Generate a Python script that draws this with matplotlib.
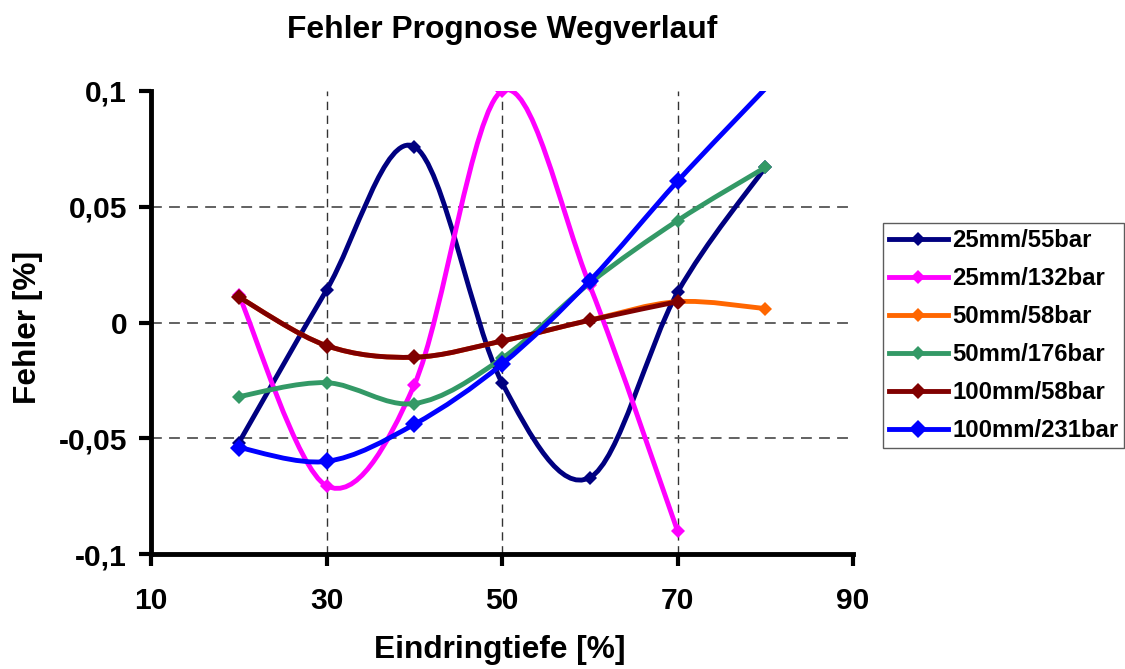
import numpy as np
import matplotlib
matplotlib.use('Agg')
import matplotlib.pyplot as plt
from matplotlib.path import Path
from matplotlib.patches import PathPatch
from matplotlib.lines import Line2D

# Daten
x_vals = [20, 30, 40, 50, 60, 70, 80]
x_short = [20, 30, 40, 50, 60, 70]

err_25_55 = [-0.052, 0.014, 0.076, -0.026, -0.067, 0.013, 0.067]
err_25_132 = [0.012, -0.0705, -0.027, 0.100, 0.016, -0.090]
err_50_58 = [0.011, -0.010, -0.015, -0.008, 0.001, 0.009, 0.006]
err_50_176 = [-0.032, -0.026, -0.035, -0.0155, 0.017, 0.044, 0.067]
err_100_58 = [0.011, -0.010, -0.015, -0.008, 0.001, 0.009]
err_100_231 = [-0.054, -0.060, -0.044, -0.018, 0.018, 0.061, 0.101]

labels = ['25mm/55bar', '25mm/132bar', '50mm/58bar', '50mm/176bar',
          '100mm/58bar', '100mm/231bar']
colors = ['#000080', '#FF00FF', '#FF6600', '#339966', '#800000', '#0000FF']
marker_sizes = [7.2, 7.0, 7.6, 7.6, 8.5, 9.6]

x_ticks = [10, 30, 50, 70, 90]
y_ticks = [-0.1, -0.05, 0, 0.05, 0.1]
y_tick_labels = ['-0,1', '-0,05', '0', '0,05', '0,1']

series = [(x_vals, err_25_55), (x_short, err_25_132), (x_vals, err_50_58),
          (x_vals, err_50_176), (x_short, err_100_58), (x_vals, err_100_231)]


def smooth_path(xs, ys):
    # geglaettete Linie wie in Excel (Bezier durch die Punkte)
    pts = np.column_stack([xs, ys]).astype(float)
    n = len(pts)
    verts = [pts[0]]
    codes = [Path.MOVETO]
    for i in range(n - 1):
        p0 = pts[i - 1] if i > 0 else pts[i]
        p1 = pts[i]
        p2 = pts[i + 1]
        p3 = pts[i + 2] if i + 2 < n else pts[i + 1]
        verts += [p1 + (p2 - p0) / 6, p2 - (p3 - p1) / 6, p2]
        codes += [Path.CURVE4] * 3
    return Path(verts, codes)


plt.rcParams['font.family'] = ['Liberation Sans', 'DejaVu Sans']
plt.rcParams['font.weight'] = 'bold'

fig = plt.figure(figsize=(11.25, 6.69), dpi=100)
ax = fig.add_axes([151 / 1125, 1 - 554 / 669, 702 / 1125, 463 / 669])

lw = 3.5
for k, ((xs, ys), col, ms) in enumerate(zip(series, colors, marker_sizes)):
    patch = PathPatch(smooth_path(xs, ys), facecolor='none', edgecolor=col,
                      lw=lw, zorder=3 + k, capstyle='butt', joinstyle='round')
    ax.add_patch(patch)
    y_arr = np.ma.masked_where(np.array(ys) > y_ticks[-1], ys)
    ax.plot(xs, y_arr, linestyle='none', marker='D', ms=ms, color=col,
            mew=0, zorder=3 + k)

ax.set_xlim(x_ticks[0], x_ticks[-1])
ax.set_ylim(y_ticks[0], y_ticks[-1])
ax.set_xticks(x_ticks)
ax.set_yticks(y_ticks)
ax.set_yticklabels(y_tick_labels)

for side in ['top', 'right']:
    ax.spines[side].set_visible(False)
for side in ['left', 'bottom']:
    ax.spines[side].set_linewidth(3.5)
ax.tick_params(axis='both', direction='out', length=8.6, width=3,
               labelsize=21.6)
ax.tick_params(axis='y', pad=8.5)
ax.tick_params(axis='x', pad=15)
for lab in ax.get_xticklabels() + ax.get_yticklabels():
    lab.set_fontweight('bold')

# Gitternetz
ax.grid(True, axis='y', linestyle=(0, (6, 4)), color='#555555', lw=1.3)
ax.grid(True, axis='x', linestyle=(0, (6, 4)), color='#333333', lw=1.0)
ax.xaxis.get_gridlines()[-1].set_visible(False)
ax.yaxis.get_gridlines()[-1].set_visible(False)

# Beschriftungen
fig.text(502 / 1125, 1 - 38 / 669, 'Fehler Prognose Wegverlauf',
         ha='center', va='baseline', fontsize=22.9, fontweight='bold')
fig.text(500 / 1125, 1 - 658 / 669, 'Eindringtiefe [%]',
         ha='center', va='baseline', fontsize=22.8, fontweight='bold')
fig.text(36 / 1125, 1 - 327 / 669, 'Fehler [%]', rotation=90,
         rotation_mode='anchor', ha='center', va='baseline',
         fontsize=22.8, fontweight='bold')

# Legende
handles = [Line2D([], [], color=c, lw=lw, marker='D', ms=m, mew=0)
           for c, m in zip(colors, marker_sizes)]
leg = fig.legend(handles, labels, loc='upper left',
                 bbox_to_anchor=(883 / 1125, 1 - 223 / 669),
                 prop={'size': 17.2, 'weight': 'bold'},
                 frameon=True, fancybox=False, borderaxespad=0,
                 borderpad=0.25, labelspacing=0.63, handlelength=2.45,
                 handletextpad=0.2)
leg.get_frame().set_edgecolor('#333333')
leg.get_frame().set_linewidth(1.0)

plt.savefig('out.png', dpi=100)
